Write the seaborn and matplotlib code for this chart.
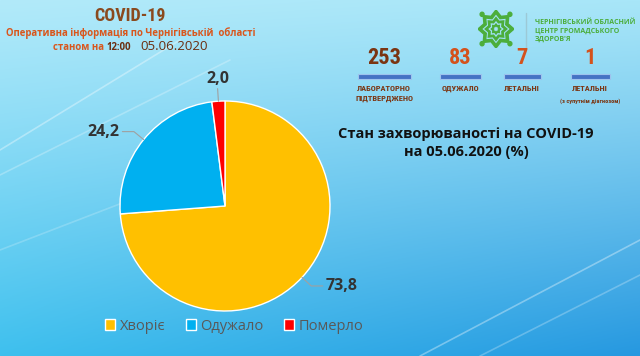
import numpy as np
import matplotlib
matplotlib.use("Agg")
import matplotlib.pyplot as plt
import seaborn as sns
from matplotlib.patches import Rectangle, Polygon, Circle
from matplotlib.lines import Line2D

# pie data
categories = ["Хворіє", "Одужало", "Померло"]
shares = [73.8, 24.2, 2.0]
share_labels = ["73,8", "24,2", "2,0"]
slice_colors = ["#FFC000", "#00B0F0", "#FF0000"]

# header counters
stat_values = [253, 83, 7, 1]
stat_captions = ["ЛАБОРАТОРНО\nПІДТВЕРДЖЕНО", "ОДУЖАЛО", "ЛЕТАЛЬНІ", "ЛЕТАЛЬНІ"]
stat_notes = ["", "", "", "(з супутнім діагнозом)"]
stat_colors = ["#7b3512", "#d4521c", "#d4521c", "#d4521c"]

W, H = 640, 356
sns.set_style("white")
plt.rcParams["font.family"] = ["Open Sans", "DejaVu Sans"]
NARROW = dict(family=["Roboto Condensed", "DejaVu Sans"], stretch="condensed")


def px(x, y):
    return x / W, 1 - y / H


fig = plt.figure(figsize=(W / 100, H / 100), dpi=100)

# background gradient
bg = fig.add_axes([0, 0, 1, 1])
yy, xx = np.mgrid[0:1:H * 1j, 0:1:W * 1j]
tl, tr = np.array([178, 234, 250]), np.array([168, 230, 248])
bl, br = np.array([62, 192, 238]), np.array([38, 152, 224])
t = (yy ** 1.1)[..., None]
s = xx[..., None]
img = ((tl * (1 - s) + tr * s) * (1 - t) + (bl * (1 - s) + br * s) * t) / 255
bg.imshow(img, extent=(0, 1, 0, 1), aspect="auto", origin="upper")
for x0, y0, x1, y1, a in [(0, 150, 180, 40, 0.35), (0, 175, 230, 60, 0.25),
                          (0, 250, 260, 150, 0.2), (420, 356, 640, 240, 0.35),
                          (480, 356, 640, 275, 0.25)]:
    bg.add_line(Line2D([x0 / W, x1 / W], [1 - y0 / H, 1 - y1 / H],
                       color="white", lw=1.2, alpha=a))
bg.set_xlim(0, 1)
bg.set_ylim(0, 1)
bg.axis("off")

# header texts
fig.text(*px(130, 16), "COVID-19", weight="bold", fontsize=13,
         color="#8a4a1e", ha="center", va="center", **NARROW)
fig.text(*px(131, 33), "Оперативна інформація по Чернігівській  області",
         weight="bold", fontsize=6.9, color="#d9561c", ha="center", va="center")
fig.text(*px(53, 47), "станом на", weight="bold", fontsize=6.9,
         color="#d9561c", ha="left", va="center")
fig.text(*px(106, 47), "12:00", weight="bold", fontsize=6.9,
         color="#6b2e10", ha="left", va="center")
fig.text(*px(140, 46), "05.06.2020", fontsize=9.5,
         color="#6b2e10", ha="left", va="center")

# logo
green = "#4cae3c"
lg = fig.add_axes([px(478, 48)[0], px(478, 48)[1], 36 / W, 38 / H])
ang = np.deg2rad(np.arange(16) * 22.5 + 90)
for rr, lw in [(1.0, 2.6), (0.6, 2.0), (0.25, 1.6)]:
    rad = np.where(np.arange(16) % 2 == 0, rr, rr * 0.72)
    lg.add_patch(Polygon(np.c_[rad * np.cos(ang), rad * np.sin(ang)],
                         closed=True, fill=False, ec=green, lw=lw))
for cx, cy in [(-0.85, -0.85), (0.85, -0.85), (-0.85, 0.85), (0.85, 0.85)]:
    lg.add_patch(Circle((cx, cy), 0.12, color=green))
lg.set_xlim(-1.1, 1.1)
lg.set_ylim(-1.1, 1.1)
lg.axis("off")
bg.add_line(Line2D([526 / W] * 2, [1 - 13 / H, 1 - 48 / H], color="#9cc9d6", lw=1))
for i, line in enumerate(["ЧЕРНІГІВСЬКИЙ ОБЛАСНИЙ", "ЦЕНТР ГРОМАДСЬКОГО", "ЗДОРОВ'Я"]):
    fig.text(*px(535, 23 + 8.3 * i), line, weight="bold", fontsize=5.0,
             color=green, ha="left", va="center")

# counters
stat_x = [384, 460, 522, 590]
bar_w = [53, 41, 37, 39]
for x, v, cap, note, c, bw in zip(stat_x, stat_values, stat_captions, stat_notes,
                                  stat_colors, bar_w):
    fig.text(*px(x, 58), str(v), weight="bold", fontsize=16,
             color=c, ha="center", va="center", **NARROW)
    bg.add_patch(Rectangle(((x - bw / 2) / W, 1 - 79 / H), bw / W, 5 / H,
                           facecolor="#4572c4", edgecolor="#9ec3ee", lw=0.8))
    fig.text(*px(x, 85), cap, weight="bold", fontsize=6,
             color="#7b3512", ha="center", va="top", linespacing=1.5, **NARROW)
    if note:
        fig.text(*px(x, 101), note, weight="bold", fontsize=4.5,
                 color="#7b3512", ha="center", va="center", **NARROW)

# chart title
fig.text(*px(466, 143), "Стан захворюваності на COVID-19\nна 05.06.2020 (%)",
         weight="bold", fontsize=10.5, color="#111111", ha="center", va="center",
         linespacing=1.45)

# pie
ax = fig.add_axes([120 / W, 1 - 311 / H, 210 / W, 210 / H])
wedges, _ = ax.pie(shares, colors=slice_colors, startangle=90, counterclock=False,
                   wedgeprops=dict(edgecolor="white", linewidth=1.0))
ax.set_xlim(-1, 1)
ax.set_ylim(-1, 1)
ax.axis("off")
for w, lab in zip(wedges, share_labels):
    a = np.deg2rad((w.theta1 + w.theta2) / 2)
    cx, cy = np.cos(a), np.sin(a)
    ex, ey = 1.12 * cx, 1.12 * cy
    if abs(cx) < 0.2:
        ax.plot([cx, ex], [cy, ey], color="#a0a0a0", lw=0.8, clip_on=False)
        ax.text(ex, ey + 0.02, lab, ha="center", va="bottom", fontsize=11.5,
                weight="bold", color="#333333")
    else:
        sgn = np.sign(cx)
        hx = ex + 0.11 * sgn
        ax.plot([cx, ex, hx], [cy, ey, ey], color="#a0a0a0", lw=0.8, clip_on=False)
        ax.text(hx + 0.03 * sgn, ey, lab, ha="left" if sgn > 0 else "right",
                va="center", fontsize=11.5, weight="bold", color="#333333")

# legend
handles = [Rectangle((0, 0), 1, 1, facecolor=c, edgecolor="white", lw=1)
           for c in slice_colors]
fig.legend(handles, categories, loc="center", bbox_to_anchor=px(234, 326),
           ncol=3, frameon=False, fontsize=10.5, labelcolor="#595959",
           handlelength=0.7, handleheight=0.7, handletextpad=0.3,
           columnspacing=1.4)

fig.savefig("out.png", dpi=100)
